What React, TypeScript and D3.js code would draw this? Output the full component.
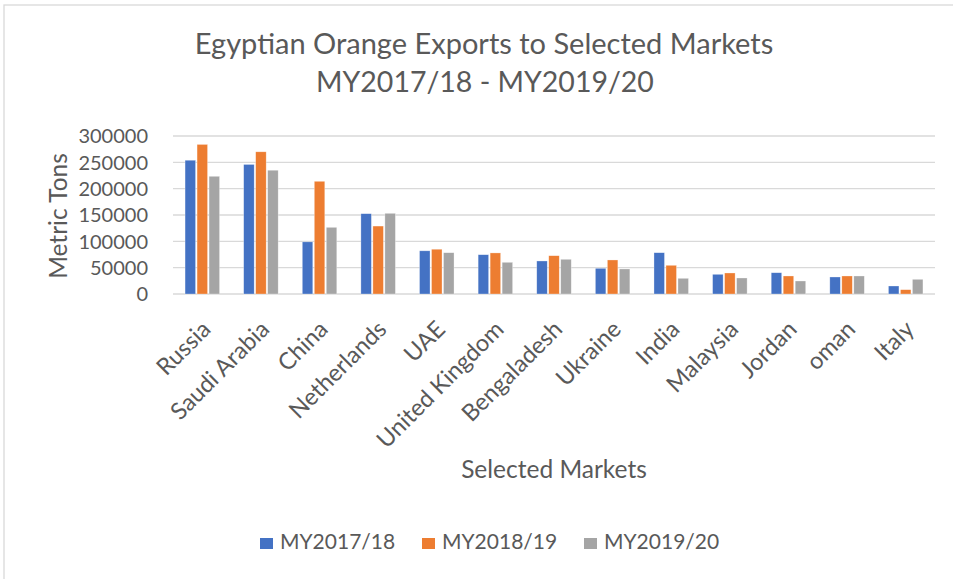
import React from "react";
import * as d3 from "d3";

const categories = ["Russia", "Saudi Arabia", "China", "Netherlands", "UAE", "United Kingdom", "Bengaladesh", "Ukraine", "India", "Malaysia", "Jordan", "oman", "Italy"];
const seriesNames = ["MY2017/18", "MY2018/19", "MY2019/20"];
const my201718 = [254000, 246000, 99000, 152500, 82000, 74600, 62700, 48800, 78400, 37400, 40400, 32300, 15200];
const my201819 = [284000, 270000, 214000, 129000, 85000, 78000, 72700, 64600, 54500, 39900, 34200, 34200, 8200];
const my201920 = [223500, 235000, 126600, 153200, 78400, 60200, 65900, 47500, 29800, 30400, 24700, 34200, 27900];
const yTicks = [0, 50000, 100000, 150000, 200000, 250000, 300000];
const colors = ["#4472C4", "#ED7D31", "#A5A5A5"];

const W = 953;
const H = 579;
const FONT = "Lato, 'Open Sans', sans-serif";
const TEXT = "#595959";

export default function App() {
  const series = [my201718, my201819, my201920];
  const x = d3.scaleBand<string>().domain(categories).range([173, 935]).paddingInner(0).paddingOuter(0);
  const y = d3.scaleLinear().domain([0, 300000]).range([294, 136]);
  const inner = d3.scaleBand<number>().domain([0, 1, 2]).range([0, 36]);
  const groupOffset = (x.bandwidth() - 36) / 2;
  const barW = 10.5;

  const legendX = [260, 422, 584];

  return (
    <svg width={W} height={H} style={{ position: "absolute", left: 0, top: 0, background: "#fff" }} fontFamily={FONT}>
      <rect x={4} y={5} width={1000} height={1000} fill="#fff" stroke="#d9d9d9" strokeWidth={1.3} />
      <text x={484} y={54} textAnchor="middle" fontSize={29} fill={TEXT}>Egyptian Orange Exports to Selected Markets</text>
      <text x={485} y={92} textAnchor="middle" fontSize={28.5} fill={TEXT}>MY2017/18 - MY2019/20</text>

      {yTicks.map((t) => (
        <g key={t}>
          <line x1={173} x2={935} y1={y(t)} y2={y(t)} stroke="#d9d9d9" strokeWidth={1.3} />
          <text x={148} y={y(t)} dy="0.36em" textAnchor="end" fontSize={20} fill={TEXT}>{t}</text>
        </g>
      ))}

      {series.map((vals, si) => (
        <g key={si}>
          {vals.map((v, ci) => {
            const bx = (x(categories[ci]) as number) + groupOffset + (inner(si) as number) + (inner.bandwidth() - barW) / 2;
            return (
              <rect key={ci} x={bx} y={y(v)} width={barW} height={y(0) - y(v)} fill={colors[si]} stroke="#fff" strokeOpacity={0.5} strokeWidth={0.6} />
            );
          })}
        </g>
      ))}

      {categories.map((c) => {
        const cx = (x(c) as number) + x.bandwidth() / 2;
        return (
          <text key={c} transform={`translate(${cx - 2},${319}) rotate(-45)`} textAnchor="end" dy="0.71em" fontSize={23.5} fill={TEXT}>{c}</text>
        );
      })}

      <text transform={`translate(67,216) rotate(-90)`} textAnchor="middle" fontSize={24.5} fill={TEXT}>Metric Tons</text>
      <text x={554} y={478} textAnchor="middle" fontSize={24.5} fill={TEXT}>Selected Markets</text>

      {seriesNames.map((n, i) => (
        <g key={n}>
          <rect x={legendX[i]} y={538} width={13} height={11} fill={colors[i]} />
          <text x={legendX[i] + 20} y={549} fontSize={21} fill={TEXT}>{n}</text>
        </g>
      ))}
    </svg>
  );
}
